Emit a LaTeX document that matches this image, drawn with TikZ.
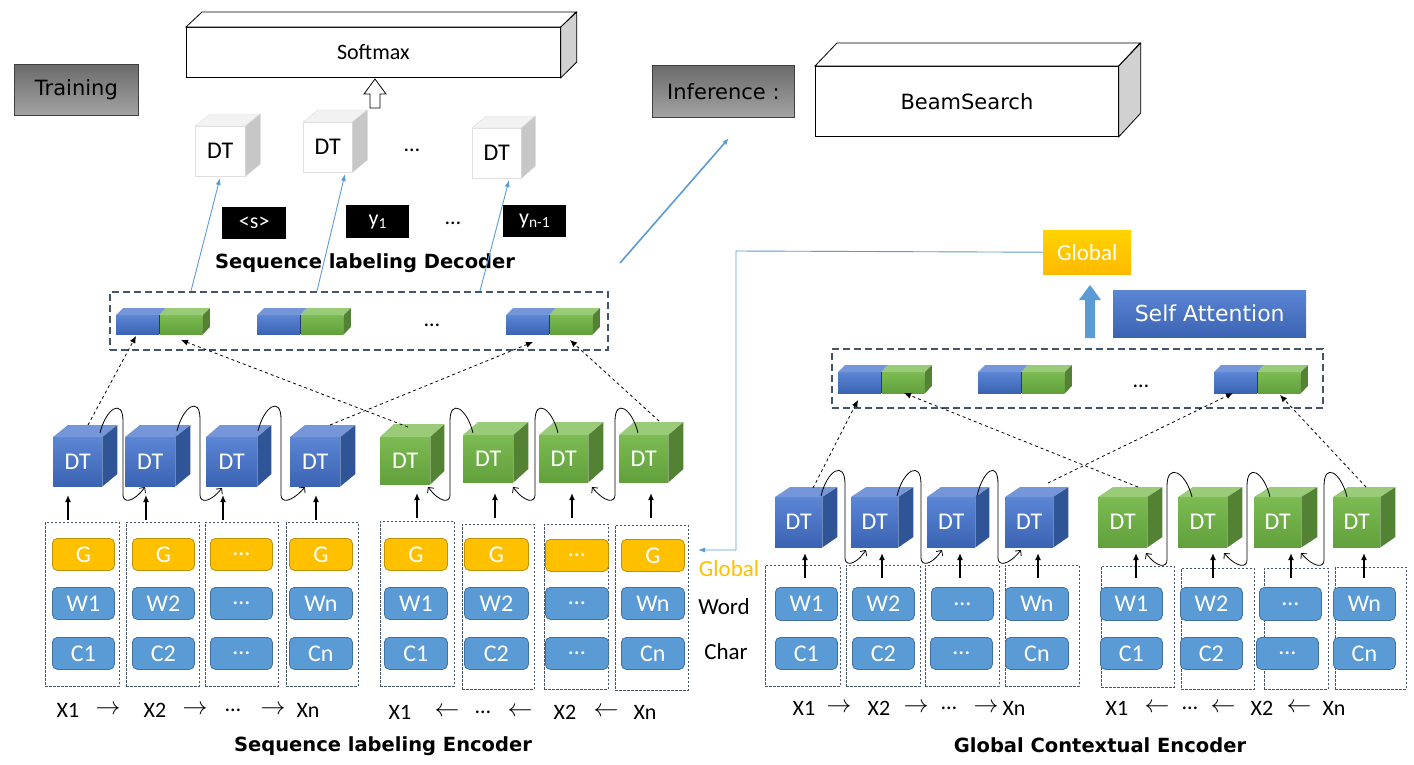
\documentclass[tikz,border=0pt]{standalone}
\usepackage{fontspec}
\setmainfont{Carlito}
\newfontfamily\comicfont{DejaVu Sans}
\usetikzlibrary{arrows.meta,calc}
\definecolor{cubebluelight}{HTML}{5B86D4}
\definecolor{cubebluedark}{HTML}{3B63B3}
\definecolor{cubebluetop}{HTML}{7596D8}
\definecolor{cubeblueside}{HTML}{2F5597}
\definecolor{cubegreenlight}{HTML}{7CBA52}
\definecolor{cubegreendark}{HTML}{62A03C}
\definecolor{cubegreentop}{HTML}{9ACB79}
\definecolor{cubegreenside}{HTML}{548235}
\definecolor{boxblue}{HTML}{5B9BD5}
\definecolor{boxblueline}{HTML}{41719C}
\definecolor{gold}{HTML}{FFC000}
\definecolor{goldline}{HTML}{BF9000}
\definecolor{slate}{HTML}{44546A}
\definecolor{linkblue}{HTML}{5B9BD5}
\tikzset{
  cubefront/.style={anchor=north west, inner sep=0pt, font=\fontsize{24}{24}\selectfont},
  bluefront/.style={cubefront, top color=cubebluelight, bottom color=cubebluedark, text=white},
  bluetop/.style={fill=cubebluetop},
  blueside/.style={fill=cubeblueside},
  greenfront/.style={cubefront, top color=cubegreenlight, bottom color=cubegreendark, text=white},
  greentop/.style={fill=cubegreentop},
  greenside/.style={fill=cubegreenside},
  whitefront/.style={cubefront, fill=white, draw=black!12, text=black},
  whitetop/.style={fill=black!5, draw=black!12},
  whiteside/.style={fill=black!22, draw=black!15},
  colbox/.style={anchor=north west, inner sep=0pt, draw=slate, dash pattern=on 2.5pt off 1.5pt, line width=0.6pt},
  bigbox/.style={anchor=north west, inner sep=0pt, draw=slate, dash pattern=on 7pt off 4pt, line width=1.6pt},
  pill/.style={anchor=north west, rounded corners=5pt, inner sep=0pt, text=white, font=\fontsize{24}{24}\selectfont, line width=0.8pt},
  bluepill/.style={pill, fill=boxblue, draw=boxblueline},
  goldpill/.style={pill, fill=gold, draw=goldline},
  uparrow/.style={-{Latex[length=7pt,width=6pt]}, line width=1.4pt, black},
  loopline/.style={-{Straight Barb[length=4pt,width=8pt]}, line width=0.8pt, black},
  dasharrow/.style={-{Latex[length=7pt,width=6pt]}, dashed, line width=0.8pt, black},
  linkarrow/.style={-{Latex[length=7pt,width=5pt]}, draw=linkblue, line width=0.9pt},
  lbl/.style={font=\fontsize{22}{22}\selectfont, inner sep=0pt},
  arr/.style={font=\fontsize{25}{25}\selectfont, inner sep=0pt},
  sidelbl/.style={font=\fontsize{23}{23}\selectfont, inner sep=0pt},
  titletext/.style={font=\comicfont\bfseries\fontsize{19.5}{20}\selectfont, inner sep=0pt},
  graybox/.style={anchor=north west, inner sep=0pt, draw=black!75, top color=black!58, bottom color=black!36, line width=0.8pt, font=\comicfont\fontsize{21}{21}\selectfont},
  front3d/.style={anchor=north west, inner sep=0pt, draw=black, fill=white, line width=0.8pt},
  face3d/.style={draw=black, fill=white, line width=0.8pt},
  side3d/.style={draw=black, fill=black!18, line width=0.8pt},
  tok/.style={anchor=north west, fill=black, text=white, inner sep=0pt, font=\fontsize{22}{22}\selectfont},
}
% cube: name, x, y, w, h, kind, dx, dy
\newcommand{\dtcube}[8]{%
  \node[#6front, minimum width=#4, minimum height=#5] (#1) at (#2,#3) {DT};
  \path[#6top] (#1.north west) -- ++(#7,-#8) -- ++(#4,0) -- (#1.north east) -- cycle;
  \path[#6side] (#1.north east) -- ++(#7,-#8) -- ++(0,#5) -- (#1.south east) -- cycle;
}
% pair: name, x, y, w, h, depth
\newcommand{\pairblk}[6]{%
  \node[anchor=north west, inner sep=0pt, top color=cubebluelight, bottom color=cubebluedark, minimum width=#4, minimum height=#5] (#1b) at (#2,#3) {};
  \node[anchor=north west, inner sep=0pt, top color=cubegreenlight, bottom color=cubegreendark, minimum width=#4, minimum height=#5] (#1g) at (#1b.north east) {};
  \path[fill=cubebluetop] (#1b.north west) -- ++(#6,-#6) -- ++(#4,0) -- (#1b.north east) -- cycle;
  \path[fill=cubegreentop] (#1g.north west) -- ++(#6,-#6) -- ++(#4,0) -- (#1g.north east) -- cycle;
  \path[fill=cubegreenside] (#1g.north east) -- ++(#6,-#6) -- ++(0,#5) -- (#1g.south east) -- cycle;
  \draw[cubeblueside!70!black, line width=0.6pt] (#1b.north east) -- (#1b.south east);
}
\begin{document}
\begin{tikzpicture}[x=1pt,y=-1pt]
\path[use as bounding box, fill=white] (0,0) rectangle (1414,764);

% ---------------- top-left: training ----------------
\node[graybox, minimum width=124, minimum height=51] (train) at (14,64) {Training};

\node[front3d, minimum width=374, minimum height=50, font=\fontsize{22}{22}\selectfont] (soft) at (186,27) {Softmax};
\path[face3d] (soft.north west) -- ++(16,-15) -- ++(374,0) -- (soft.north east) -- cycle;
\path[side3d] (soft.north east) -- ++(16,-15) -- ++(0,50) -- (soft.south east) -- cycle;

\draw[fill=white, line width=0.8pt] (370,108) -- (370,94) -- (364,94) -- (375,79) -- (386,94) -- (380,94) -- (380,108) -- cycle;

\dtcube{wc1}{195}{126}{50}{50}{white}{15}{12}
\dtcube{wc2}{303}{122}{49}{50}{white}{15}{12}
\dtcube{wc3}{472}{128}{49}{50}{white}{14}{12}
\node[lbl] (wdots) at (412,150) {…};

\node[tok, minimum width=64, minimum height=32] (t1) at (222,207) {<s>};
\node[tok, minimum width=63, minimum height=33] (t2) at (346,205) {y\textsubscript{1}};
\node[lbl] (tdots) at (453,223) {…};
\node[tok, minimum width=63, minimum height=32] (t3) at (503,205) {y\textsubscript{n-1}};

\node[titletext] (dectitle) at (365,263) {Sequence labeling Decoder};

% decoder box
\node[bigbox, minimum width=498, minimum height=58] (decbox) at (109,291) {};
\pairblk{dp1}{116}{315}{43}{19}{7}
\pairblk{dp2}{257}{315}{43}{19}{7}
\pairblk{dp3}{506}{315}{43}{19}{7}
\node[lbl] (ddots) at (432,325) {…};

\draw[linkarrow] (191,291) -- (220,178);
\draw[linkarrow] (317,291) -- (345,174);
\draw[linkarrow] (480,291) -- (509,180);

% ---------------- inference ----------------
\draw[linkarrow, line width=1.6pt] (620,263) -- (729,138);
\node[graybox, minimum width=142, minimum height=52] (infer) at (652,65) {Inference :};
\node[front3d, minimum width=303, minimum height=70, font=\comicfont\fontsize{21}{21}\selectfont] (beam) at (815,66) {BeamSearch};
\path[face3d] (beam.north west) -- ++(22,-23) -- ++(303,0) -- (beam.north east) -- cycle;
\path[side3d] (beam.north east) -- ++(22,-23) -- ++(0,70) -- (beam.south east) -- cycle;

% ---------------- left encoder ----------------
\dtcube{lb1}{53}{437}{49}{49}{blue}{15}{12}
\dtcube{lb2}{125}{437}{50}{49}{blue}{15}{12}
\dtcube{lb3}{206}{437}{51}{49}{blue}{14}{12}
\dtcube{lb4}{290}{437}{50}{49}{blue}{15}{12}
\dtcube{lg1}{380}{437}{50}{47}{green}{14}{13}
\dtcube{lg2}{463}{435}{50}{47}{green}{15}{13}
\dtcube{lg3}{539}{435}{49}{47}{green}{15}{13}
\dtcube{lg4}{619}{435}{49}{47}{green}{15}{13}

% loops
\draw[loopline] (100,433) .. controls (106,408) and (123,398) .. (123,421) -- (123,495) .. controls (123,503) and (133,503) .. (145,487);
\draw[loopline] (177,431) .. controls (183,406) and (200,396) .. (200,419) -- (200,495) .. controls (200,503) and (210,503) .. (222,488);
\draw[loopline] (258,431) .. controls (264,406) and (281,396) .. (281,419) -- (281,495) .. controls (281,503) and (291,503) .. (305,487);
\draw[loopline] (473,433) .. controls (467,408) and (450,398) .. (450,421) -- (450,495) .. controls (450,503) and (440,503) .. (428,487);
\draw[loopline] (558,433) .. controls (552,408) and (535,398) .. (535,421) -- (535,495) .. controls (535,503) and (525,503) .. (513,487);
\draw[loopline] (638,433) .. controls (632,408) and (615,398) .. (615,421) -- (615,495) .. controls (615,503) and (605,503) .. (592,487);

% dashed to decoder
\draw[dasharrow] (88,425) -- (136,336);
\draw[dasharrow] (408,427) -- (181,340);
\draw[dasharrow] (330,425) -- (533,342);
\draw[dasharrow] (659,421) -- (570,340);

% columns
\node[colbox, minimum width=74, minimum height=164] (lc1) at (45,522) {};
\node[colbox, minimum width=73, minimum height=164] (lc2) at (126,522) {};
\node[colbox, minimum width=73, minimum height=164] (lc3) at (205,522) {};
\node[colbox, minimum width=72, minimum height=164] (lc4) at (286,522) {};
\node[colbox, minimum width=74, minimum height=165] (lc5) at (380,521) {};
\node[colbox, minimum width=72, minimum height=165] (lc6) at (462,524) {};
\node[colbox, minimum width=64, minimum height=165] (lc7) at (544,524) {};
\node[colbox, minimum width=73, minimum height=165] (lc8) at (615,525) {};

\draw[uparrow] (68,520) -- (68,495);
\draw[uparrow] (146,520) -- (146,495);
\draw[uparrow] (223,520) -- (223,495);
\draw[uparrow] (316,520) -- (316,495);
\draw[uparrow] (417,518) -- (417,493);
\draw[uparrow] (495,518) -- (495,493);
\draw[uparrow] (572,518) -- (572,493);
\draw[uparrow] (651,518) -- (651,493);

% pills left
\node[goldpill, minimum width=62, minimum height=32] (g1) at (52,538) {G};
\node[bluepill, minimum width=62, minimum height=32] (w1) at (52,587) {W1};
\node[bluepill, minimum width=62, minimum height=32] (c1) at (52,637) {C1};
\node[goldpill, minimum width=62, minimum height=32] (g2) at (132,538) {G};
\node[bluepill, minimum width=62, minimum height=32] (w2) at (132,587) {W2};
\node[bluepill, minimum width=62, minimum height=32] (c2) at (132,637) {C2};
\node[goldpill, minimum width=62, minimum height=32] (g3) at (210,538) {…};
\node[bluepill, minimum width=62, minimum height=32] (w3) at (210,587) {…};
\node[bluepill, minimum width=62, minimum height=32] (c3) at (210,637) {…};
\node[goldpill, minimum width=63, minimum height=32] (g4) at (289,538) {G};
\node[bluepill, minimum width=63, minimum height=32] (w4) at (289,587) {Wn};
\node[bluepill, minimum width=63, minimum height=32] (c4) at (289,637) {Cn};

\node[goldpill, minimum width=63, minimum height=32] (g5) at (384,538) {G};
\node[bluepill, minimum width=63, minimum height=32] (w5) at (384,587) {W1};
\node[bluepill, minimum width=63, minimum height=32] (c5) at (384,637) {C1};
\node[goldpill, minimum width=64, minimum height=32] (g6) at (464,538) {G};
\node[bluepill, minimum width=64, minimum height=32] (w6) at (464,587) {W2};
\node[bluepill, minimum width=64, minimum height=32] (c6) at (464,637) {C2};
\node[goldpill, minimum width=63, minimum height=32] (g7) at (545,539) {…};
\node[bluepill, minimum width=63, minimum height=32] (w7) at (545,587) {…};
\node[bluepill, minimum width=63, minimum height=32] (c7) at (545,637) {…};
\node[goldpill, minimum width=63, minimum height=32] (g8) at (621,539) {G};
\node[bluepill, minimum width=63, minimum height=32] (w8) at (621,587) {Wn};
\node[bluepill, minimum width=63, minimum height=32] (c8) at (621,637) {Cn};

\node[sidelbl, text=gold] (globlbl) at (729,569) {Global};
\node[sidelbl] (wordlbl) at (724,607) {Word};
\node[sidelbl] (charlbl) at (726,652) {Char};

% bottom row left
\node[lbl] (lx1) at (68,710) {X1};
\node[arr] (la1) at (108,710) {$\rightarrow$};
\node[lbl] (lx2) at (155,710) {X2};
\node[arr] (la2) at (195,710) {$\rightarrow$};
\node[lbl] (ldots) at (233,710) {…};
\node[arr] (la3) at (273,710) {$\rightarrow$};
\node[lbl] (lxn) at (308,710) {Xn};
\node[lbl] (mx1) at (400,712) {X1};
\node[arr] (ma1) at (447,712) {$\leftarrow$};
\node[lbl] (mdots) at (483,712) {…};
\node[arr] (ma2) at (520,712) {$\leftarrow$};
\node[lbl] (mx2) at (565,712) {X2};
\node[arr] (ma3) at (606,712) {$\leftarrow$};
\node[lbl] (mxn) at (645,712) {Xn};
\node[titletext] (enctitle) at (383,746) {Sequence labeling Encoder};

% ---------------- right: global contextual encoder ----------------
\node[anchor=north west, inner sep=0pt, top color=gold!70!yellow, bottom color=gold!90!orange, minimum width=88, minimum height=44, text=white, font=\fontsize{23}{23}\selectfont] (glob) at (1043,230) {Global};
\draw[linkblue, line width=0.9pt, -{Latex[length=7pt,width=5pt]}] (glob.west) -- (736,251) -- (736,550) -- (698,550);

\draw[fill=linkblue, draw=none] (1085,338) -- (1085,300) -- (1079,300) -- (1090,285) -- (1101,300) -- (1095,300) -- (1095,338) -- cycle;
\node[anchor=north west, inner sep=0pt, top color=cubebluelight, bottom color=cubebluedark, minimum width=193, minimum height=47, text=white, font=\comicfont\fontsize{22}{22}\selectfont] (selfatt) at (1113,290) {Self Attention};

\node[bigbox, minimum width=491, minimum height=59] (gbox) at (831,348) {};
\pairblk{rp1}{838}{372}{43}{21}{7}
\pairblk{rp2}{978}{372}{43}{21}{7}
\pairblk{rp3}{1214}{372}{43}{21}{7}
\node[lbl] (rdots) at (1141,386) {…};

\dtcube{rb1}{775}{497}{47}{50}{blue}{15}{10}
\dtcube{rb2}{851}{497}{47}{50}{blue}{15}{10}
\dtcube{rb3}{927}{497}{48}{50}{blue}{14}{10}
\dtcube{rb4}{1005}{497}{48}{50}{blue}{15}{10}
\dtcube{rg1}{1098}{497}{49}{50}{green}{15}{10}
\dtcube{rg2}{1178}{497}{49}{50}{green}{15}{10}
\dtcube{rg3}{1254}{497}{47}{50}{green}{16}{10}
\dtcube{rg4}{1333}{497}{47}{50}{green}{15}{10}

\draw[loopline] (821,496) .. controls (827,470) and (845,460) .. (845,484) -- (845,558) .. controls (845,566) and (855,566) .. (866,550);
\draw[loopline] (897,496) .. controls (903,470) and (921,460) .. (921,484) -- (921,558) .. controls (921,566) and (931,566) .. (942,550);
\draw[loopline] (977,496) .. controls (983,470) and (998,460) .. (998,484) -- (998,558) .. controls (998,566) and (1008,566) .. (1021,550);
\draw[loopline] (1192,497) .. controls (1186,472) and (1167,462) .. (1167,486) -- (1167,560) .. controls (1167,568) and (1157,568) .. (1146,553);
\draw[loopline] (1270,497) .. controls (1264,472) and (1247,462) .. (1247,486) -- (1247,560) .. controls (1247,568) and (1237,568) .. (1224,553);
\draw[loopline] (1347,497) .. controls (1341,472) and (1324,462) .. (1324,486) -- (1324,560) .. controls (1324,568) and (1314,568) .. (1301,553);

\draw[dasharrow] (813,488) -- (858,400);
\draw[dasharrow] (1138,487) -- (904,393);
\draw[dasharrow] (1048,483) -- (1233,393);
\draw[dasharrow] (1366,487) -- (1280,395);

\node[colbox, minimum width=75, minimum height=121] (rc1) at (765,565) {};
\node[colbox, minimum width=74, minimum height=121] (rc2) at (846,565) {};
\node[colbox, minimum width=74, minimum height=121] (rc3) at (925,565) {};
\node[colbox, minimum width=74, minimum height=121] (rc4) at (1005,565) {};
\node[colbox, minimum width=73, minimum height=121] (rc5) at (1101,566) {};
\node[colbox, minimum width=73, minimum height=121] (rc6) at (1181,568) {};
\node[colbox, minimum width=64, minimum height=121] (rc7) at (1264,568) {};
\node[colbox, minimum width=71, minimum height=122] (rc8) at (1335,567) {};

\draw[uparrow] (805,578) -- (805,553);
\draw[uparrow] (882,578) -- (882,553);
\draw[uparrow] (960,578) -- (960,553);
\draw[uparrow] (1038,578) -- (1038,553);
\draw[uparrow] (1136,578) -- (1136,553);
\draw[uparrow] (1213,578) -- (1213,553);
\draw[uparrow] (1291,578) -- (1291,553);
\draw[uparrow] (1364,578) -- (1364,553);

\node[bluepill, minimum width=62, minimum height=33] (rw1) at (775,587) {W1};
\node[bluepill, minimum width=62, minimum height=32] (rcc1) at (775,637) {C1};
\node[bluepill, minimum width=62, minimum height=33] (rw2) at (852,587) {W2};
\node[bluepill, minimum width=62, minimum height=32] (rcc2) at (852,637) {C2};
\node[bluepill, minimum width=62, minimum height=33] (rw3) at (931,587) {…};
\node[bluepill, minimum width=62, minimum height=32] (rcc3) at (930,637) {…};
\node[bluepill, minimum width=63, minimum height=33] (rw4) at (1005,587) {Wn};
\node[bluepill, minimum width=63, minimum height=32] (rcc4) at (1005,637) {Cn};
\node[bluepill, minimum width=62, minimum height=33] (rw5) at (1100,587) {W1};
\node[bluepill, minimum width=62, minimum height=32] (rcc5) at (1100,637) {C1};
\node[bluepill, minimum width=62, minimum height=33] (rw6) at (1180,587) {W2};
\node[bluepill, minimum width=62, minimum height=32] (rcc6) at (1180,637) {C2};
\node[bluepill, minimum width=62, minimum height=33] (rw7) at (1259,587) {…};
\node[bluepill, minimum width=62, minimum height=32] (rcc7) at (1256,637) {…};
\node[bluepill, minimum width=62, minimum height=33] (rw8) at (1333,587) {Wn};
\node[bluepill, minimum width=62, minimum height=32] (rcc8) at (1333,637) {Cn};

\node[lbl] (rx1) at (804,708) {X1};
\node[arr] (ra1) at (839,708) {$\rightarrow$};
\node[lbl] (rx2) at (879,708) {X2};
\node[arr] (ra2) at (916,708) {$\rightarrow$};
\node[lbl] (rdots2) at (949,708) {…};
\node[arr] (ra3) at (986,708) {$\rightarrow$};
\node[lbl] (rxn) at (1014,708) {Xn};
\node[lbl] (sx1) at (1117,708) {X1};
\node[arr] (sa1) at (1157,708) {$\leftarrow$};
\node[lbl] (sdots) at (1190,708) {…};
\node[arr] (sa2) at (1223,708) {$\leftarrow$};
\node[lbl] (sx2) at (1262,708) {X2};
\node[arr] (sa3) at (1299,708) {$\leftarrow$};
\node[lbl] (sxn) at (1334,708) {Xn};
\node[titletext] (gtitle) at (1100,745) {Global Contextual Encoder};
\end{tikzpicture}
\end{document}
